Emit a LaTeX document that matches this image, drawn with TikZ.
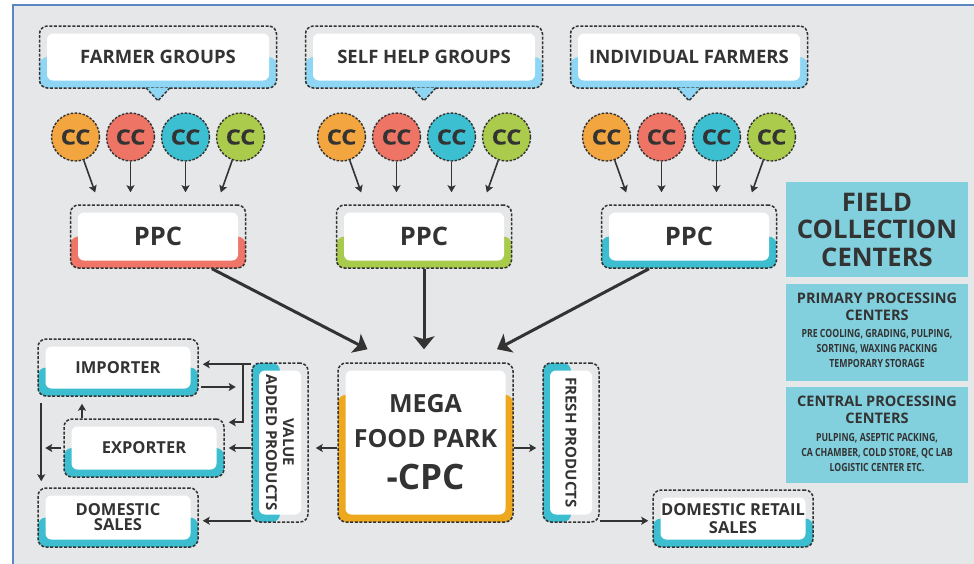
\documentclass[tikz,border=0pt]{standalone}
\usepackage{fontspec}
\setmainfont{Open Sans}
\newfontfamily\narrowfont{Open Sans}[FakeStretch=0.78]
\newfontfamily\heavyfont{Open Sans}[FakeStretch=1.12, FakeBold=0.6]
\usetikzlibrary{arrows.meta, calc}

\definecolor{paper}{HTML}{E6E7E8}
\definecolor{ink}{HTML}{333333}
\definecolor{frameblue}{HTML}{5A86C4}
\definecolor{sky}{HTML}{8ED6F4}
\definecolor{aqua}{HTML}{3DBDD0}
\definecolor{coral}{HTML}{EE7567}
\definecolor{lime}{HTML}{A9CB4B}
\definecolor{gold}{HTML}{EDA81E}
\definecolor{infobg}{HTML}{82CFDD}
\definecolor{ccorange}{HTML}{F3A640}
\definecolor{cccoral}{HTML}{EE7466}
\definecolor{ccteal}{HTML}{3CBFD1}
\definecolor{cclime}{HTML}{AACB4B}

\tikzset{
  outline/.style  = {draw=ink, line width=1.5pt, dash pattern=on 3pt off 1.6pt,
                     rounded corners=8pt, fill=paper, inner sep=0pt},
  lowband/.style  = {outline, path picture={\fill[#1] (path picture bounding box.south west)
                     rectangle (path picture bounding box.east);}},
  sideband/.style = {outline, path picture={\fill[#1] (path picture bounding box.south west)
                     rectangle (path picture bounding box.north);}},
  topband/.style  = {outline, path picture={\fill[#1] (path picture bounding box.south west)
                     rectangle ($(path picture bounding box.south east)!0.8!(path picture bounding box.north east)$);}},
  pointer/.style  = {draw=ink, line width=1.5pt, dash pattern=on 3pt off 1.6pt, fill=sky},
  card/.style     = {fill=white, rounded corners=6pt, inner sep=0pt, align=center, text=ink,
                     font=\bfseries\fontsize{16.5}{15}\selectfont},
  cc/.style       = {circle, draw=ink, line width=1.4pt, dash pattern=on 2.5pt off 1.5pt,
                     minimum size=48pt, inner sep=0pt, text=ink,
                     font=\heavyfont\bfseries\fontsize{21}{21}\selectfont},
  feed/.style     = {draw=ink, line width=1.6pt, -{Stealth[length=7pt,width=8pt,inset=1.5pt]},
                     shorten >=4pt},
  mainflow/.style = {draw=ink, line width=3pt, -{Stealth[length=13pt,width=21pt,inset=3pt]}},
  info/.style     = {fill=infobg, inner sep=0pt, align=center, text=ink},
}

% dashed outer box with a coloured band, white card on top
\newcommand{\tagbox}[7][]{%
  \node[#6, minimum width=#4pt, minimum height=#5pt] (#2) at (#3) {};
  \node[card, minimum width=#4pt-15pt, minimum height=#5pt-15pt, #1] (#2-in) at (#2) {#7};
}

\begin{document}
\begin{tikzpicture}[x=1pt, y=-1pt]
  \useasboundingbox (0,0) rectangle (974,563);
  \draw[draw=frameblue, line width=2pt, fill=paper] (13,5) rectangle (990,580);

  % sources, collection centres and primary processing
  \foreach \g/\gx/\grouptext/\bandcol in {a/158/FARMER GROUPS/coral,
      b/424/SELF HELP GROUPS/lime, c/689/INDIVIDUAL FARMERS/aqua} {
    \tagbox[font=\bfseries\fontsize{18.5}{18}\selectfont]{grp-\g}{\gx,57}{237}{62}{lowband=sky}{\grouptext}
    \path[pointer] ([xshift=-12pt,yshift=1pt]grp-\g.south) -- ([yshift=-12pt]grp-\g.south)
      -- ([xshift=12pt,yshift=1pt]grp-\g.south);
    \tagbox[font=\bfseries\fontsize{25.5}{25}\selectfont]{ppc-\g}{\gx,236.5}{175}{63}{lowband=\bandcol}{PPC}
    \foreach \k/\dx/\tx/\col in {1/-82.5/-61.5/ccorange, 2/-27.5/-27.5/cccoral,
        3/27.5/27.5/ccteal, 4/82.5/61.5/cclime} {
      \node[cc, fill=\col] (cc-\g\k) at ({\gx+\dx},137) {CC};
      \draw[feed] (cc-\g\k) -- ([xshift=\tx pt, yshift=8pt]ppc-\g.north);
    }
  }

  % central processing
  \tagbox[font=\bfseries\fontsize{25}{35}\selectfont]{mfp}{425.5,442.5}{175}{159}{topband=gold}%
    {MEGA\\FOOD PARK\\[7pt]{\fontsize{35}{35}\selectfont -CPC}}
  \draw[mainflow] ([xshift=54pt]ppc-a.south) -- ([xshift=-58pt,yshift=13pt]mfp.north);
  \draw[mainflow] (ppc-b.south) -- ([xshift=-1.5pt,yshift=13pt]mfp.north);
  \draw[mainflow] ([xshift=-40pt]ppc-c.south) -- ([xshift=71.5pt,yshift=13pt]mfp.north);

  % product streams
  \node[sideband=aqua, minimum width=56pt, minimum height=159pt] (vap) at (280,442.5) {};
  \node[card, rotate=-90, minimum width=144pt, minimum height=42pt,
        font=\bfseries\fontsize{15}{17}\selectfont] (vap-in) at (vap) {VALUE\\ADDED PRODUCTS};
  \node[sideband=aqua, minimum width=56pt, minimum height=159pt] (fresh) at (571,442.5) {};
  \node[card, rotate=-90, minimum width=144pt, minimum height=42pt,
        font=\bfseries\fontsize{15}{17}\selectfont] (fresh-in) at (fresh) {FRESH PRODUCTS};

  \tagbox{imp}{118,367.5}{160}{57}{lowband=aqua}{IMPORTER}
  \tagbox{exp}{144,448}{160}{58}{lowband=aqua}{EXPORTER}
  \tagbox{dom}{118,517.5}{160}{59}{lowband=aqua}{DOMESTIC\\SALES}
  \tagbox[font=\bfseries\fontsize{16.5}{18}\selectfont]{retail}{733,518.5}{160}{57}{lowband=aqua}%
    {DOMESTIC RETAIL\\SALES}

  \draw[feed, shorten >=7pt] ([yshift=-5.5pt]mfp.west) -- ([yshift=-5.5pt]vap.east);
  \draw[feed, shorten >=6pt] ([yshift=-5.5pt]mfp.east) -- ([yshift=-5.5pt]fresh.west);
  \draw[feed] ([yshift=-2pt]vap.north west) coordinate (vap-top) -- (vap-top -| imp.east);
  \coordinate (split) at (243,365);
  \draw[feed] (split) |- ([yshift=-4pt]exp.north east);
  \draw[feed] ([xshift=2pt,yshift=-19.5pt]imp.east) -- ++(39,0);
  \draw[feed] (vap.west |- exp.east) -- (exp.east);
  \draw[feed, shorten >=7pt] ([xshift=-62pt]exp.north) -- ([xshift=-36pt]imp.south);
  \draw[feed] ([xshift=-2pt]exp.west) -- ++(-20,0);
  \draw[feed, shorten <=6pt, shorten >=6pt] ([xshift=4pt]imp.south west) -- ([xshift=4pt]dom.north west);
  \draw[feed] ([yshift=2pt]vap.south west) coordinate (vap-low) -- (vap-low -| dom.east);
  \draw[feed] ([yshift=2pt]fresh.south east) coordinate (fresh-low) -- (fresh-low -| retail.west);

  % legend on the right
  \node[info, minimum width=182pt, minimum height=95pt,
        font=\bfseries\fontsize{25.6}{27.5}\selectfont] (fcc) at (877,229.5)
    {FIELD\\COLLECTION\\CENTERS};
  \node[info, minimum width=182pt, minimum height=97pt] (ppcinfo) at (877,332.5) {};
  \node[info, font=\bfseries\fontsize{14.5}{17}\selectfont] (ppcinfo-title) at (877,306.5)
    {PRIMARY PROCESSING\\CENTERS};
  \node[info, font=\narrowfont\bfseries\fontsize{11.2}{15}\selectfont] (ppcinfo-body) at (877,348)
    {PRE COOLING, GRADING, PULPING,\\SORTING, WAXING PACKING\\TEMPORARY STORAGE};
  \node[info, minimum width=182pt, minimum height=96pt] (cpcinfo) at (877,435) {};
  \node[info, font=\bfseries\fontsize{14.5}{17}\selectfont] (cpcinfo-title) at (877,410)
    {CENTRAL PROCESSING\\CENTERS};
  \node[info, font=\narrowfont\bfseries\fontsize{11.2}{15}\selectfont] (cpcinfo-body) at (877,453)
    {PULPING, ASEPTIC PACKING,\\CA CHAMBER, COLD STORE, QC LAB\\LOGISTIC CENTER ETC.};
\end{tikzpicture}
\end{document}
